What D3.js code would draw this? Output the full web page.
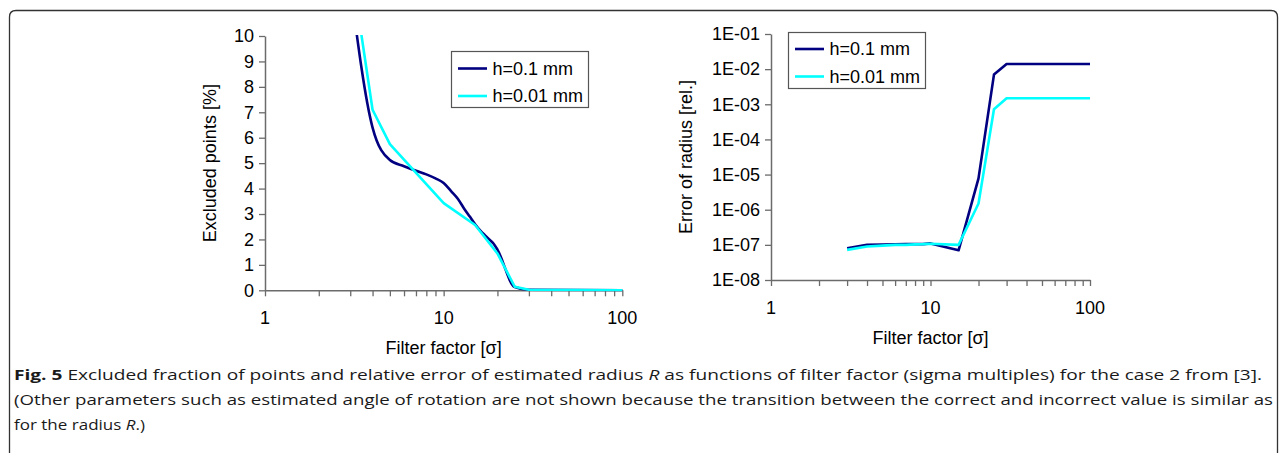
<!DOCTYPE html>
<html><head><meta charset="utf-8">
<script src="https://cdn.jsdelivr.net/npm/d3@7"></script>
<style>
html,body{margin:0;padding:0;background:#fff;}
svg{display:block;}
</style></head>
<body>
<svg id="c" width="1281" height="453"></svg>
<script>
// ---- data ----
const seriesNames = ["h=0.1 mm", "h=0.01 mm"];
const excludedX_h01 = [3, 4, 5, 6, 7, 8, 9, 10, 11, 12, 13, 14, 15, 16, 17, 18, 19, 20, 25, 30, 100];
const excludedY_h01 = [12, 6.4, 5.12, 4.88, 4.7, 4.56, 4.4, 4.22, 3.9, 3.6, 3.22, 2.9, 2.6, 2.36, 2.17, 2.0, 1.84, 1.6, 0.13, 0.02, 0];
const excludedX_h001 = [3, 4, 5, 10, 15, 20, 25, 30, 100];
const excludedY_h001 = [13, 7.1, 5.75, 3.43, 2.57, 1.45, 0.14, 0.02, 0];
const errorX = [3, 4, 5, 6, 7, 8, 9, 10, 15, 20, 25, 30, 100];
const errorY_h01 = [8e-8, 1e-7, 1.02e-7, 1.04e-7, 1.05e-7, 1.05e-7, 1.05e-7, 1.1e-7, 7e-8, 7.8e-6, 7e-3, 1.4e-2, 1.4e-2];
const errorY_h001 = [7.2e-8, 9e-8, 9.5e-8, 1.0e-7, 1.0e-7, 1.03e-7, 1.05e-7, 1.08e-7, 1.0e-7, 1.5e-6, 7.2e-4, 1.48e-3, 1.48e-3];
const linearTicks = [0, 1, 2, 3, 4, 5, 6, 7, 8, 9, 10];
const logYTicks = [1e-8, 1e-7, 1e-6, 1e-5, 1e-4, 1e-3, 1e-2, 1e-1];
const logYLabels = ["1E-08", "1E-07", "1E-06", "1E-05", "1E-04", "1E-03", "1E-02", "1E-01"];
const xMajorTicks = [1, 10, 100];
const captionBold = "Fig. 5";
const captionLines = [
  " Excluded fraction of points and relative error of estimated radius ",
  "(Other parameters such as estimated angle of rotation are not shown because the transition between the correct and incorrect value is similar as",
  "for the radius "
];

const colors = ["#000080", "#00FFFF"];
const svg = d3.select("#c");
const FONT = "'Liberation Sans', Arial, sans-serif";
const FS = 18;
const AXC = "#6b6b6b";

// frame
svg.append("path")
  .attr("d", "M9.5,470 L9.5,17 Q9.5,10.5 16,10.5 L1271,10.5 Q1277.5,10.5 1277.5,17 L1277.5,470")
  .attr("fill", "none").attr("stroke", "#333").attr("stroke-width", 1.3);

const xMinor = [];
for (let d = 1; d < 100; d *= 10) for (let k = 2; k <= 9; k++) xMinor.push(d * k);

function drawPanel(opt) {
  const g = svg.append("g");
  const x = d3.scaleLog().domain([1, 100]).range([opt.x0, opt.x1]);
  const y = opt.y;
  const clipId = "clip" + opt.id;
  svg.append("clipPath").attr("id", clipId).append("rect")
    .attr("x", opt.x0).attr("y", opt.y1 - 1).attr("width", opt.x1 - opt.x0 + 2).attr("height", opt.y0 - opt.y1 + 2);

  // x axis
  const xa = g.append("g").attr("transform", `translate(0,${opt.y0})`)
    .call(d3.axisBottom(x).tickValues(xMinor.concat(xMajorTicks)).tickFormat(() => "").tickSize(6).tickSizeOuter(0));
  xa.select(".domain").attr("stroke", AXC).attr("stroke-width", 1.5);
  xa.selectAll(".tick line").attr("stroke", AXC).attr("stroke-width", 1.3);
  xMajorTicks.forEach(v => {
    g.append("text").attr("x", x(v)).attr("y", opt.y0 + 34)
      .attr("text-anchor", "middle").attr("font-family", FONT).attr("font-size", FS).attr("fill", "#000").text(v);
  });
  // y axis
  const ya = g.append("g").attr("transform", `translate(${opt.x0},0)`)
    .call(d3.axisLeft(y).tickValues(opt.yTicks).tickFormat((d, i) => opt.yLabels[i]).tickSize(6).tickSizeOuter(0).tickPadding(5));
  ya.select(".domain").attr("stroke", AXC).attr("stroke-width", 1.5);
  ya.selectAll(".tick line").attr("stroke", AXC).attr("stroke-width", 1.3);
  ya.selectAll(".tick text").attr("font-family", FONT).attr("font-size", FS).attr("fill", "#000");

  // titles
  g.append("text").attr("x", (opt.x0 + opt.x1) / 2).attr("y", opt.y0 + 64)
    .attr("text-anchor", "middle").attr("font-family", FONT).attr("font-size", FS).attr("fill", "#000").text("Filter factor [σ]");
  g.append("text").attr("transform", `translate(${opt.titleX},${(opt.y0 + opt.y1) / 2}) rotate(-90)`)
    .attr("text-anchor", "middle").attr("font-family", FONT).attr("font-size", FS).attr("fill", "#000").attr("dy", "0.35em").text(opt.yTitle);

  // lines
  opt.series.forEach((s, i) => {
    const line = d3.line().x(d => x(d[0])).y(d => y(d[1])).curve(s.curve);
    g.append("path").datum(d3.zip(s.xs, s.ys)).attr("d", line)
      .attr("clip-path", `url(#${clipId})`)
      .attr("fill", "none").attr("stroke", colors[i]).attr("stroke-width", 2.6)
      .attr("stroke-linejoin", "round");
  });

  // legend
  const L = opt.legend;
  g.append("rect").attr("x", L.x).attr("y", L.y).attr("width", L.w).attr("height", L.h)
    .attr("fill", "#fff").attr("stroke", "#555").attr("stroke-width", 1.2);
  seriesNames.forEach((n, i) => {
    const yy = L.y + L.row0 + i * L.dy;
    g.append("line").attr("x1", L.x + 6.5).attr("x2", L.x + 35.5).attr("y1", yy).attr("y2", yy)
      .attr("stroke", colors[i]).attr("stroke-width", 2.6);
    g.append("text").attr("x", L.x + 41).attr("y", yy).attr("dy", "0.35em")
      .attr("font-family", FONT).attr("font-size", FS).attr("fill", "#000").text(n);
  });
}

drawPanel({
  id: "L", x0: 265, x1: 622.3, y0: 290.3, y1: 36,
  y: d3.scaleLinear().domain([0, 10]).range([290.3, 36]),
  yTicks: linearTicks, yLabels: linearTicks.map(String),
  yTitle: "Excluded points [%]", titleX: 210,
  series: [
    {xs: excludedX_h01, ys: excludedY_h01, curve: d3.curveMonotoneX},
    {xs: excludedX_h001, ys: excludedY_h001, curve: d3.curveLinear}
  ],
  legend: {x: 451.5, y: 51.5, w: 137, h: 56, row0: 17, dy: 27.5}
});

drawPanel({
  id: "R", x0: 771, x1: 1090, y0: 280, y1: 34,
  y: d3.scaleLog().domain([1e-8, 1e-1]).range([280, 34]),
  yTicks: logYTicks, yLabels: logYLabels,
  yTitle: "Error of radius [rel.]", titleX: 686,
  series: [
    {xs: errorX, ys: errorY_h01, curve: d3.curveLinear},
    {xs: errorX, ys: errorY_h001, curve: d3.curveLinear}
  ],
  legend: {x: 788.5, y: 32.5, w: 137, h: 56, row0: 16.5, dy: 27.5}
});

// caption
const CF = "'Open Sans', 'Noto Sans', sans-serif";
const t1 = svg.append("text").attr("x", 14).attr("y", 380).attr("font-family", CF).attr("font-size", 15).attr("fill", "#1a1a1a")
  .attr("textLength", 1248).attr("lengthAdjust", "spacingAndGlyphs");
t1.append("tspan").attr("font-weight", "bold").text(captionBold);
t1.append("tspan").text(captionLines[0]);
t1.append("tspan").attr("font-style", "italic").text("R");
t1.append("tspan").text(" as functions of filter factor (sigma multiples) for the case 2 from [3].");
svg.append("text").attr("x", 14).attr("y", 405).attr("font-family", CF).attr("font-size", 15).attr("fill", "#1a1a1a")
  .attr("textLength", 1259).attr("lengthAdjust", "spacingAndGlyphs").text(captionLines[1]);
const t3 = svg.append("text").attr("x", 14).attr("y", 430).attr("font-family", CF).attr("font-size", 15).attr("fill", "#1a1a1a")
  .attr("textLength", 131).attr("lengthAdjust", "spacingAndGlyphs");
t3.append("tspan").text(captionLines[2]);
t3.append("tspan").attr("font-style", "italic").text("R");
t3.append("tspan").text(".)");
</script>
</body></html>
